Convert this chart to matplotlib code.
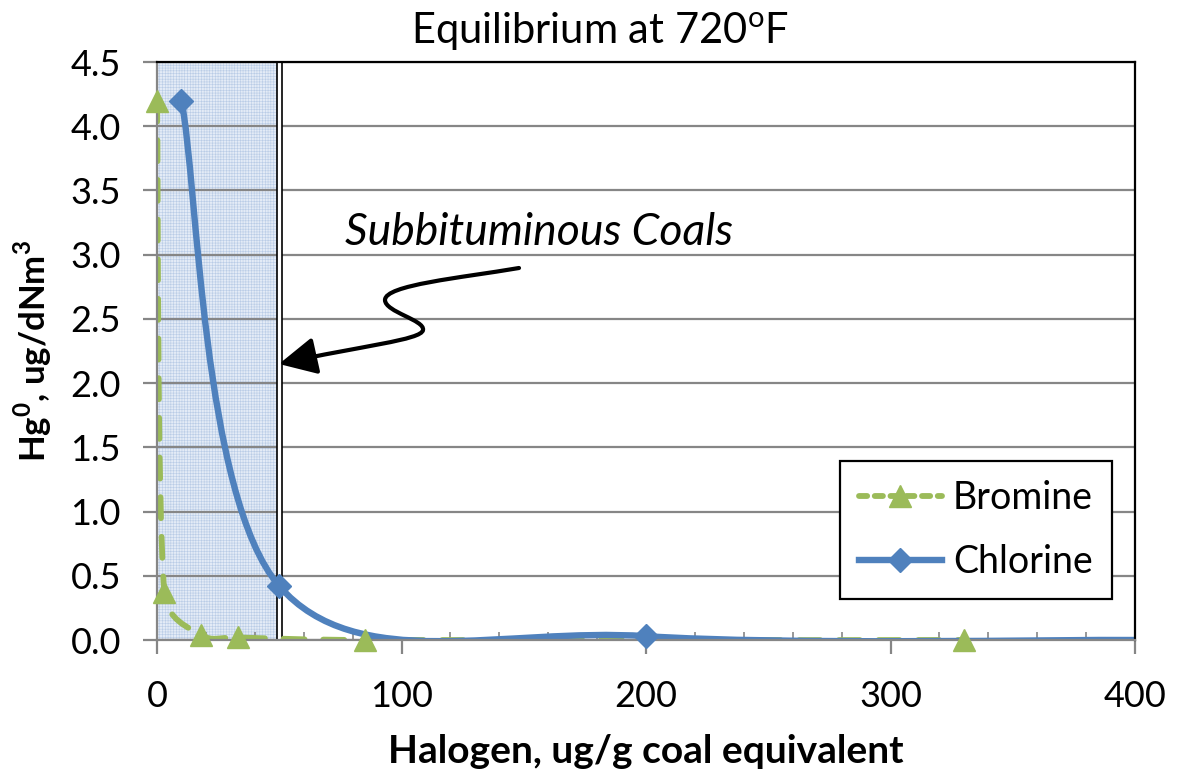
import numpy as np
import matplotlib
matplotlib.use("Agg")
import matplotlib.pyplot as plt
from matplotlib.path import Path
from matplotlib.patches import PathPatch, Rectangle, FancyArrowPatch
from matplotlib.lines import Line2D
from matplotlib.ticker import MultipleLocator, FormatStrFormatter

plt.rcParams["font.family"] = ["Lato", "DejaVu Sans"]
plt.rcParams["mathtext.fontset"] = "custom"
plt.rcParams["mathtext.rm"] = "Lato"
plt.rcParams["mathtext.bf"] = "Lato:bold"
plt.rcParams["hatch.linewidth"] = 0.4

# ---- data ----
bromine_x = [0, 3, 18, 33, 85, 330]
bromine_y = [4.2, 0.37, 0.04, 0.02, 0.0, 0.0]
chlorine_x = [10, 50, 200, 400]
chlorine_y = [4.2, 0.42, 0.03, 0.0]

subbit_range = (0, 50)

BROM_COLOR = "#9BBB59"
CHLOR_COLOR = "#4F81BD"
GRID_COLOR = "#868686"

fig = plt.figure(figsize=(11.82, 7.75), dpi=100)
ax = fig.add_axes([157 / 1182, 1 - 640 / 775, 978 / 1182, 578 / 775])
ax.set_xlim(0, 400)
ax.set_ylim(0, 4.5)


def excel_smooth_path(ax, xs, ys):
    """Bezier path like Excel's smoothed line, control points built in screen space."""
    pts = ax.transData.transform(np.column_stack([xs, ys]))
    n = len(pts)
    verts = [pts[0]]
    codes = [Path.MOVETO]
    for i in range(n - 1):
        p0 = pts[max(i - 1, 0)]
        p1 = pts[i]
        p2 = pts[i + 1]
        p3 = pts[min(i + 2, n - 1)]
        seg = np.linalg.norm(p2 - p1)
        t1 = (p2 - p0) / 6.0
        t2 = (p3 - p1) / 6.0
        for t in (t1, t2):
            L = np.linalg.norm(t)
            if L > 0.5 * seg:
                t *= 0.5 * seg / L
        verts += [p1 + t1, p2 - t2, p2]
        codes += [Path.CURVE4] * 3
    verts = ax.transData.inverted().transform(np.array(verts))
    return Path(verts, codes)


# shaded subbituminous range
ax.axvspan(*subbit_range, facecolor="#e3ebf6", edgecolor="#b9cce6",
           hatch="++++++", lw=0, zorder=0.5)
ax.add_patch(Rectangle((subbit_range[1] - 0.8, 0), 2.0, 4.5, facecolor="white",
                       edgecolor="black", lw=1.2, zorder=1.6))

# grid
ax.yaxis.grid(True, color=GRID_COLOR, lw=1.6)
ax.xaxis.grid(False)

# smoothed lines
ax.add_patch(PathPatch(excel_smooth_path(ax, bromine_x, bromine_y), fill=False,
                       edgecolor=BROM_COLOR, lw=4.2, linestyle=(0, (3.6, 3.2)),
                       capstyle="round", zorder=2))
ax.add_patch(PathPatch(excel_smooth_path(ax, chlorine_x, chlorine_y), fill=False,
                       edgecolor=CHLOR_COLOR, lw=4.6, capstyle="butt", zorder=2.1))

ax.plot(bromine_x, bromine_y, ls="none", marker="^", ms=16,
        color=BROM_COLOR, zorder=3, clip_on=False)
ax.plot(chlorine_x[:-1], chlorine_y[:-1], ls="none", marker="D", ms=12,
        color=CHLOR_COLOR, zorder=3.1, clip_on=False)

# axes styling
for s in ["left", "bottom"]:
    ax.spines[s].set_color(GRID_COLOR)
    ax.spines[s].set_linewidth(1.6)
for s in ["top", "right"]:
    ax.spines[s].set_color("black")
    ax.spines[s].set_linewidth(1.6)

ax.xaxis.set_major_locator(MultipleLocator(100))
ax.xaxis.set_minor_locator(MultipleLocator(20))
ax.yaxis.set_major_locator(MultipleLocator(0.5))
ax.yaxis.set_major_formatter(FormatStrFormatter("%.1f"))
ax.tick_params(axis="x", which="major", direction="out", length=10, width=1.6,
               color=GRID_COLOR, labelsize=26, pad=19)
ax.tick_params(axis="x", which="minor", direction="in", length=6, width=1.2,
               color=GRID_COLOR)
ax.tick_params(axis="y", which="major", direction="out", length=10, width=1.6,
               color=GRID_COLOR, labelsize=26, pad=16)

fig.text(600 / 1182, 1 - 32 / 775, r"Equilibrium at 720$^{\mathrm{o}}$F",
         fontsize=30, ha="center", va="center")
ax.set_xlabel("Halogen, ug/g coal equivalent", fontsize=28, fontweight="bold",
              labelpad=15)
ax.set_ylabel(r"Hg$^{\mathbf{0}}$, ug/dNm$^{\mathbf{3}}$", fontsize=25,
              fontweight="bold", labelpad=12)

# annotation with wavy arrow
ax.text(77, 3.17, "Subbituminous Coals", fontsize=32, style="italic",
        ha="left", va="center")


def px2data(px, py):
    return ((px - 157) / 978 * 400, (640 - py) / 578 * 4.5)


arrow_px = [(519, 268), (460, 278), (385, 285), (385, 300),
            (385, 312), (425, 320), (423, 330),
            (422, 340), (360, 346), (279, 364)]
arrow_codes = [Path.MOVETO] + [Path.CURVE4] * 9
arrow_path = Path([px2data(*p) for p in arrow_px], arrow_codes)
ax.add_patch(FancyArrowPatch(path=arrow_path,
                             arrowstyle="-|>,head_length=0.6,head_width=0.3",
                             mutation_scale=38, color="black", lw=3.0,
                             zorder=4))

# legend
handles = [
    Line2D([], [], color=BROM_COLOR, lw=4.2, ls=(0, (1.4, 1.3)),
           dash_capstyle="round", marker="^", ms=16),
    Line2D([], [], color=CHLOR_COLOR, lw=4.6, marker="D", ms=12),
]
leg = ax.legend(handles, ["Bromine", "Chlorine"], loc="lower right",
                bbox_to_anchor=(0.976, 0.071), borderaxespad=0, fontsize=27,
                frameon=True, fancybox=False, edgecolor="black", framealpha=1,
                handlelength=2.2, handletextpad=0.3, borderpad=0.5,
                labelspacing=0.75)
leg.get_frame().set_linewidth(1.6)

fig.savefig("out.png", dpi=100)
